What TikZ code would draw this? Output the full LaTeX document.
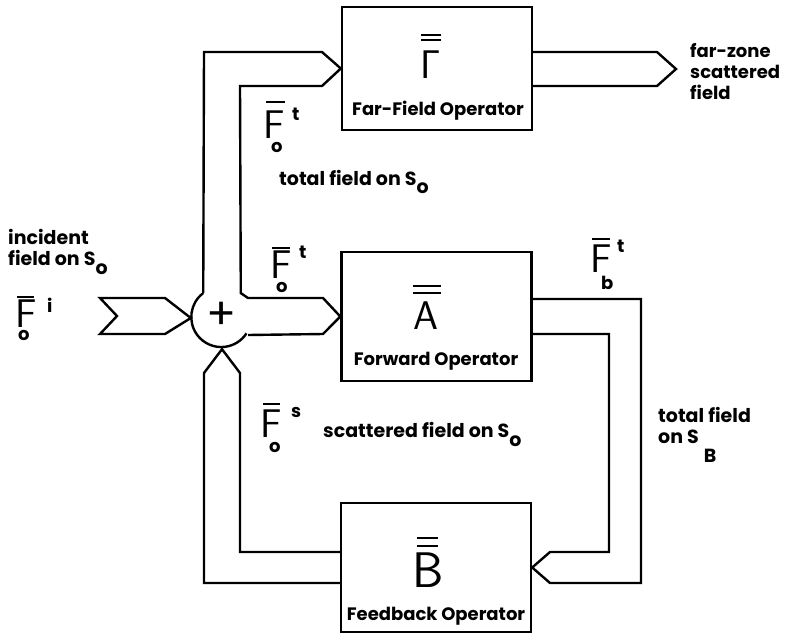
\documentclass[tikz,border=0pt]{standalone}
\usepackage{fontspec}
\setmainfont{Poppins}
\begin{document}
\begin{tikzpicture}[x=1pt,y=-1pt,line width=2.4pt,line join=miter,
  box/.style={draw,minimum width=190pt,minimum height=129pt,inner sep=0pt},
  lab/.style={font=\bfseries\fontsize{19}{21}\selectfont,inner sep=0pt,anchor=base west,align=left},
  boxlab/.style={font=\bfseries\fontsize{18}{21}\selectfont,inner sep=0pt,anchor=base},
  big/.style={font=\sffamily\fontsize{40}{40}\selectfont,inner sep=0pt,anchor=base west},
  sml/.style={font=\bfseries\fontsize{18}{18}\selectfont,inner sep=0pt,anchor=base west},
  bar/.style={line width=2pt}]
\useasboundingbox (0,0) rectangle (786,635);

% operator boxes
\node[box,minimum height=123pt] (G) at (437,68.5) {};
\node[box] (A) at (436.5,316.5) {};
\node[box] (B) at (436,567.5) {};

\node[big] (Gam) at (419,78) {Γ};
\node[big] (Aop) at (412,329) {A};
\node[big,font=\sffamily\fontsize{50}{50}\selectfont] (Bop) at (411,587) {B};
\draw[bar] (421,35) -- (441,35) (421,40) -- (441,40);
\draw[bar] (413,286) -- (441,286) (413,293) -- (441,293);
\draw[bar] (417,538) -- (438,538) (417,546) -- (438,546);

\node[boxlab] (Gl) at (438,115) {Far-Field Operator};
\node[boxlab] (Al) at (436,365) {Forward Operator};
\node[boxlab] (Bl) at (436,620) {Feedback Operator};

% summing junction
\node[circle,minimum size=60pt,inner sep=0pt] (sum) at (222,318) {};
\node[font=\fontsize{44}{44}\selectfont,inner sep=0pt] (plus) at (222,316) {+};
\draw (sum.127) arc[start angle=233,end angle=33,radius=30];

% input pipe
\draw (sum.west) -- (165,298) -- (100,298) -- (117,316) -- (100,334) -- (165,334) -- cycle;

% pipe to far-field operator and to forward operator
\draw (sum.127) -- (204,52) -- (322,52) -- (G.west) -- (322,86) -- (240,86) -- (sum.53)
      -- (248,298) -- (323,298) -- (A.west) -- (323,334) -- (sum.-33);

% far-field output
\draw (G.east |- 0,52) -- (657,52) -- (676,69) -- (657,86) -- (G.east |- 0,86);

% forward output to feedback operator
\draw (A.east |- 0,299) -- (641,299) -- (641,583) -- (550,583) -- (B.east)
      -- (550,552) -- (609,552) -- (609,334) -- (A.east |- 0,334);

% feedback back to summing junction
\draw (B.west |- 0,583) -- (204,583) -- (204,373) -- (sum.south) -- (240,373)
      -- (240,552) -- (B.west |- 0,552);

% field labels
\node[big] (F1) at (262,138) {F};
\draw[bar] (266,102) -- (285,102);
\node[sml] (F1o) at (270,152) {o};
\node[sml] (F1t) at (291,120) {t};

\node[big] (F2) at (269,278) {F};
\draw[bar] (272,248) -- (290,248);
\node[sml] (F2o) at (275,292) {o};
\node[sml] (F2t) at (298,258) {t};

\node[big] (Fi) at (14,327) {F};
\draw[bar] (17,297) -- (34,297);
\node[sml] (Fio) at (17,340) {o};
\node[sml] (Fii) at (46,312) {i};

\node[big] (Fb) at (589,272) {F};
\draw[bar] (592,239) -- (610,239);
\node[sml] (Fbb) at (600,289) {b};
\node[sml] (Fbt) at (616,252) {t};

\node[big] (Fs) at (259,437) {F};
\draw[bar] (263,404) -- (280,404);
\node[sml] (Fso) at (268,452) {o};
\node[sml] (Fss) at (290,417) {s};

% text labels
\node[lab,font=\bfseries\fontsize{18}{21}\selectfont] (farzone) at (689,99) {far-zone\\scattered\\field};
\node[lab] (tfo) at (278,185) {total field on S\raisebox{-8pt}{o}};
\node[lab] (inc) at (7,265) {incident\\field on S\raisebox{-9pt}{o}};
\node[lab] (sfo) at (322,437) {scattered field on S\raisebox{-9pt}{o}};
\node[lab] (tfb) at (657,443) {total field\\on S\hspace{5pt}\raisebox{-19pt}{B}};
\end{tikzpicture}
\end{document}
